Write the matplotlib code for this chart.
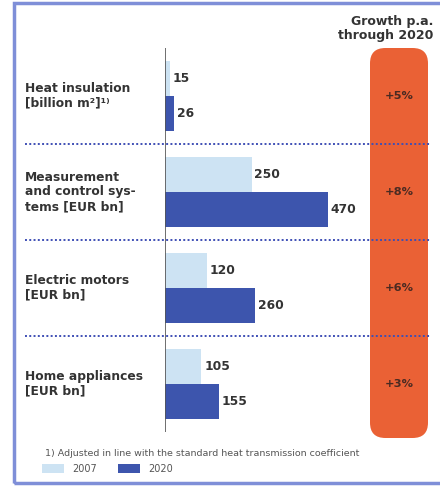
import matplotlib.pyplot as plt
import numpy as np
from matplotlib.patches import FancyBboxPatch, Rectangle
from matplotlib.transforms import blended_transform_factory

categories = ['Heat insulation\n[billion m²]¹⁾',
              'Measurement\nand control sys-\ntems [EUR bn]',
              'Electric motors\n[EUR bn]',
              'Home appliances\n[EUR bn]']
values_2007 = [15, 250, 120, 105]
values_2020 = [26, 470, 260, 155]
growth = ['+5%', '+8%', '+6%', '+3%']
series_names = ['2007', '2020']
footnote = '1) Adjusted in line with the standard heat transmission coefficient'

light = '#cde3f3'
dark = '#3d55ad'
orange = '#ea6135'
txt = '#333333'

W, H = 440, 487
fig = plt.figure(figsize=(W / 100, H / 100), dpi=100)
fig.patch.set_facecolor('white')

def fx(px):
    return px / W

def fy(px):
    return 1 - px / H

# outer frame
fig.patches.append(Rectangle((fx(14), fy(483)), fx(460) - fx(14), fy(3) - fy(483),
                             transform=fig.transFigure, fill=False,
                             edgecolor='#7f8fd8', linewidth=2.5))

# growth column (behind everything)
gx0, gx1 = fx(370), fx(428)
fig.patches.append(FancyBboxPatch((gx0, fy(438)), gx1 - gx0, fy(48) - fy(438),
                                  boxstyle='round,pad=0,rounding_size=0.035',
                                  transform=fig.transFigure, facecolor=orange,
                                  edgecolor='none', mutation_aspect=0.9,
                                  zorder=-1))

# bar axes
ax = fig.add_axes([fx(165), fy(432), fx(440) - fx(165), fy(48) - fy(432)])
ax.set_xlim(0, 793)
ax.set_ylim(3.5, -0.5)
ax.axis('off')
ax.axvline(0, color='#555555', linewidth=1.2)

y = np.arange(len(categories))
h = 0.36
b1 = ax.barh(y - h / 2, values_2007, height=h, color=light, label=series_names[0])
b2 = ax.barh(y + h / 2, values_2020, height=h, color=dark, label=series_names[1])
for yi, v1, v2 in zip(y, values_2007, values_2020):
    ax.text(v1 + 8, yi - h / 2, str(v1), va='center', ha='left',
            fontsize=8.8, fontweight='bold', color=txt)
    ax.text(v2 + 8, yi + h / 2, str(v2), va='center', ha='left',
            fontsize=8.8, fontweight='bold', color=txt)

# category labels and dotted separators
tr = blended_transform_factory(fig.transFigure, ax.transData)
for yi, cat in zip(y, categories):
    ax.text(fx(25), yi, cat, transform=tr, va='center', ha='left',
            fontsize=8.8, fontweight='bold', color=txt, linespacing=1.15)
for yi in y[:-1] + 0.5:
    ax.plot([fx(25), fx(430)], [yi, yi], transform=tr, color='#3f4fb5',
            linestyle=(0, (1, 1.2)), linewidth=1.4, clip_on=False, zorder=1)

for yi, g in zip(y, growth):
    ax.text((gx0 + gx1) / 2, yi, g, transform=tr, va='center', ha='center',
            fontsize=8.2, fontweight='bold', color='#4a2a22', zorder=5)
fig.text(fx(433), fy(28), 'Growth p.a.\nthrough 2020', ha='right', va='center',
         fontsize=9, fontweight='bold', color=txt, linespacing=1.1)

# footnote and legend
fig.text(fx(45), fy(453), footnote, ha='left', va='center', fontsize=6.8, color='#555555')
fig.legend(handles=[b1, b2], labels=series_names, loc='center left',
           bbox_to_anchor=(fx(33), fy(469)), ncol=2, frameon=False,
           fontsize=7, handlelength=2.3, handleheight=1.1,
           columnspacing=2.2, handletextpad=0.8, labelcolor='#555555')

fig.savefig('out.png', dpi=100)
